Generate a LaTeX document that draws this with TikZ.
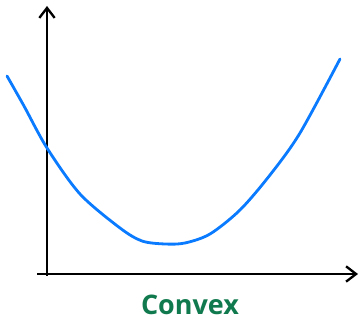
\documentclass[tikz,border=0pt]{standalone}
\usepackage{fontspec}
\setmainfont{Open Sans}
\usepackage{tikz}
\usetikzlibrary{arrows.meta}
\definecolor{cvblue}{HTML}{0A7BFF}
\definecolor{cvgreen}{HTML}{107A4E}

\begin{document}
\begin{tikzpicture}[x=0.03cm, y=-0.03cm,
  axis/.style={black, line width=2pt, -{Straight Barb[length=3mm, width=4.6mm, line width=2pt]}},
  curve/.style={cvblue, line width=2.4pt, line cap=round, line join=round},
  title/.style={font=\fontsize{23}{26}\selectfont\bfseries, text=cvgreen, inner sep=0pt, anchor=base}
]
  \useasboundingbox (0,0) rectangle (360,321);
  \coordinate (o) at (47,276);
  \coordinate (ytop) at (47,6);
  \coordinate (xleft) at (37,274);
  \coordinate (xright) at (358,274);

  \draw[axis] (o) -- (ytop);
  \draw[axis] (xleft) -- (xright);

  \draw[curve] plot[smooth, tension=0.5] coordinates {
    (7,76) (24,106) (47,148) (80,194) (120,228) (142,241)
    (165,244) (185,243) (210,234) (240,210) (270,175)
    (300,133) (340,59)};

  \node[title] (lbl) at (190,315) {Convex};
\end{tikzpicture}
\end{document}
